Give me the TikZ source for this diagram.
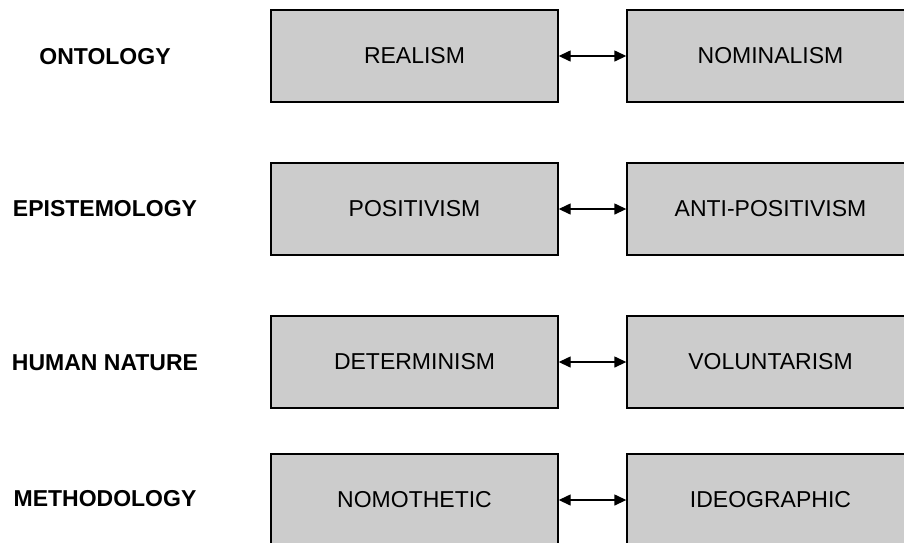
\documentclass[tikz,border=0pt]{standalone}
\usepackage{fontspec}
\setmainfont{Liberation Sans}
\usetikzlibrary{arrows.meta}
\definecolor{boxgray}{HTML}{CCCCCC}
\begin{document}
\begin{tikzpicture}[x=1pt,y=-1pt,
  paradigm/.style={draw=black, line width=1.4pt, fill=boxgray,
    minimum width=287pt, minimum height=92pt, inner sep=0pt,
    font=\fontsize{23}{27}\selectfont},
  dimension/.style={font=\bfseries\fontsize{23}{27}\selectfont},
  link/.style={line width=1.4pt,
    {Triangle[length=12pt,width=11pt]}-{Triangle[length=12pt,width=11pt]}}]
\useasboundingbox (0,0) rectangle (904,542);
\clip (0,0) rectangle (904,542);

% dimension labels
\node[dimension] (d1) at (105,57)  {ONTOLOGY};
\node[dimension] (d2) at (105,209) {EPISTEMOLOGY};
\node[dimension] (d3) at (105,363) {HUMAN NATURE};
\node[dimension] (d4) at (105,499) {METHODOLOGY};

% left-hand positions
\node[paradigm] (l1) at (414.5,56)  {REALISM};
\node[paradigm] (l2) at (414.5,209) {POSITIVISM};
\node[paradigm] (l3) at (414.5,362) {DETERMINISM};
\node[paradigm] (l4) at (414.5,500) {NOMOTHETIC};

% right-hand positions
\node[paradigm] (r1) at (770.5,56)  {NOMINALISM};
\node[paradigm] (r2) at (770.5,209) {ANTI-POSITIVISM};
\node[paradigm] (r3) at (770.5,362) {VOLUNTARISM};
\node[paradigm] (r4) at (770.5,500) {IDEOGRAPHIC};

% two-way links between the opposing positions
\foreach \i in {1,...,4}
  \draw[link] (l\i.east) -- (r\i.west);
\end{tikzpicture}
\end{document}
